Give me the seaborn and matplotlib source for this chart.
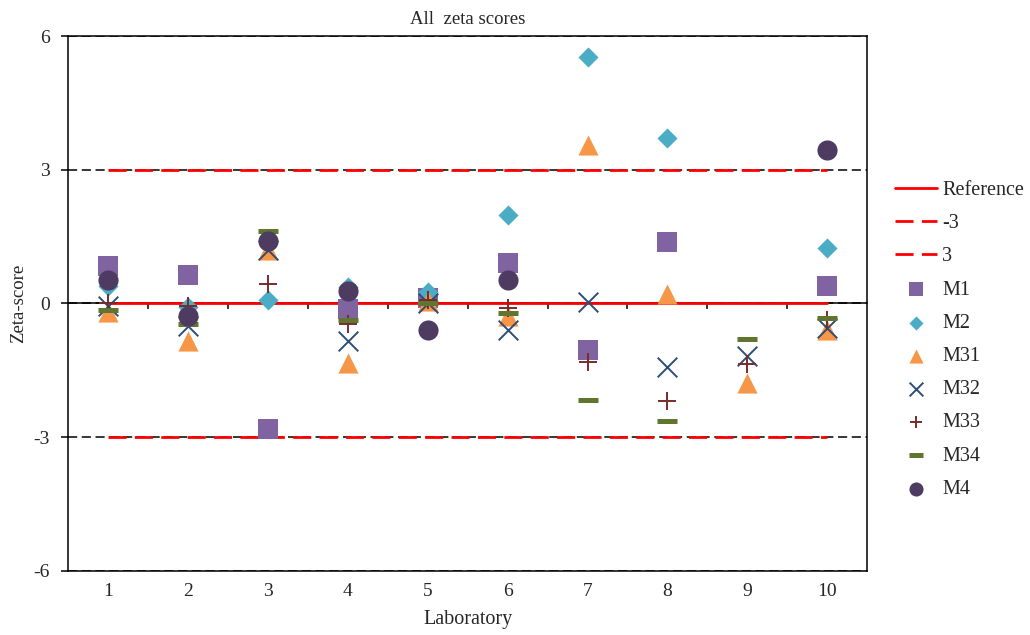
import numpy as np
import pandas as pd
import matplotlib
matplotlib.use('Agg')
import matplotlib.pyplot as plt
import seaborn as sns

sns.set_theme(style='white')
plt.rcParams['font.family'] = ['Liberation Serif', 'DejaVu Serif']
plt.rcParams['axes.unicode_minus'] = False

labs = [1, 2, 3, 4, 5, 6, 7, 8, 9, 10]
nan = np.nan
m1 = [0.84, 0.65, -2.81, -0.13, 0.13, 0.91, -1.05, 1.38, nan, 0.39]
m2 = [0.40, -0.08, 0.08, 0.36, 0.25, 1.98, 5.52, 3.72, nan, 1.25]
m31 = [-0.20, -0.83, 1.20, -1.34, 0.05, -0.27, 3.55, 0.22, -1.78, -0.60]
m32 = [-0.05, -0.50, 1.19, -0.83, 0.00, -0.60, 0.03, -1.42, -1.17, -0.55]
m33 = [0.00, -0.05, 0.44, -0.47, 0.07, -0.10, -1.32, -2.19, -1.35, -0.38]
m34 = [-0.15, -0.47, 1.63, -0.38, 0.00, -0.21, -2.16, -2.63, -0.79, -0.32]
m4 = [0.52, -0.27, 1.40, 0.27, -0.60, 0.53, nan, nan, nan, 3.44]

series = {'M1': m1, 'M2': m2, 'M31': m31, 'M32': m32,
          'M33': m33, 'M34': m34, 'M4': m4}
ref = [0] * 10
lo = [-3] * 10
hi = [3] * 10

styles = {
    'M1': dict(marker='s', color='#8064A2', s=200, linewidth=0),
    'M2': dict(marker='D', color='#4BACC6', s=105, linewidth=0),
    'M31': dict(marker='^', color='#F79646', s=210, linewidth=0),
    'M32': dict(marker='x', color='#2C4D75', s=200, linewidth=1.4),
    'M33': dict(marker='+', color='#772C2A', s=170, linewidth=1.4),
    'M34': dict(marker='_', color='#5F7530', s=200, linewidth=3.6),
    'M4': dict(marker='o', color='#4D3B62', s=210, linewidth=0),
}

fig = plt.figure(figsize=(10.3, 6.35), dpi=100)
ax = fig.add_axes([0.066, 0.1008, 0.776, 0.8425])

dash = (0, (6.5, 3.0))
sns.lineplot(x=labs, y=ref, color='red', linewidth=2, label='Reference', ax=ax, zorder=3)
sns.lineplot(x=labs, y=lo, color='red', linewidth=2, linestyle=dash, label='-3', ax=ax, zorder=3)
sns.lineplot(x=labs, y=hi, color='red', linewidth=2, linestyle=dash, label='3', ax=ax, zorder=3)

for name, vals in series.items():
    df = pd.DataFrame({'lab': labs, 'z': vals}).dropna()
    sns.scatterplot(data=df, x='lab', y='z', label=name, ax=ax, zorder=4,
                    **styles[name])

ax.set_xlim(0.5, 10.5)
ax.set_ylim(-6, 6)
ax.set_yticks([-6, -3, 0, 3, 6])
ax.set_xticks(labs)
ax.yaxis.grid(True, color='black', linestyle=(0, (6, 3)), linewidth=1.1, zorder=1)
ax.set_axisbelow(True)
ax.tick_params(axis='y', which='major', direction='out', length=5, width=1.1,
               left=True, labelsize=14, color='black', pad=8)
ax.tick_params(axis='x', which='major', length=0, labelsize=14, pad=9)
for sp in ax.spines.values():
    sp.set_color('black')
    sp.set_linewidth(1.1)

# horizontal axis through zero with category boundary ticks
zax = ax.secondary_xaxis(0.5)
zax.set_xticks([1.5, 2.5, 3.5, 4.5, 5.5, 6.5, 7.5, 8.5, 9.5])
zax.tick_params(direction='in', length=4, width=1.1, color='black',
                labelbottom=False, labeltop=False)
for sp in zax.spines.values():
    sp.set_color('black')
    sp.set_linewidth(1.1)

ax.set_title('All  zeta scores', fontsize=13.5, pad=9)
ax.set_xlabel('Laboratory', fontsize=14.5, labelpad=7)
ax.set_ylabel('Zeta-score', fontsize=13.5, labelpad=5)

h, l = ax.get_legend_handles_labels()
ax.legend(h, l, loc='upper left', bbox_to_anchor=(0.869, 0.715),
          bbox_transform=fig.transFigure, frameon=False, fontsize=14.5,
          handlelength=2.1, handletextpad=0.25, labelspacing=0.7, markerscale=0.7,
          borderaxespad=0, borderpad=0)

fig.savefig('out.png', dpi=100)
